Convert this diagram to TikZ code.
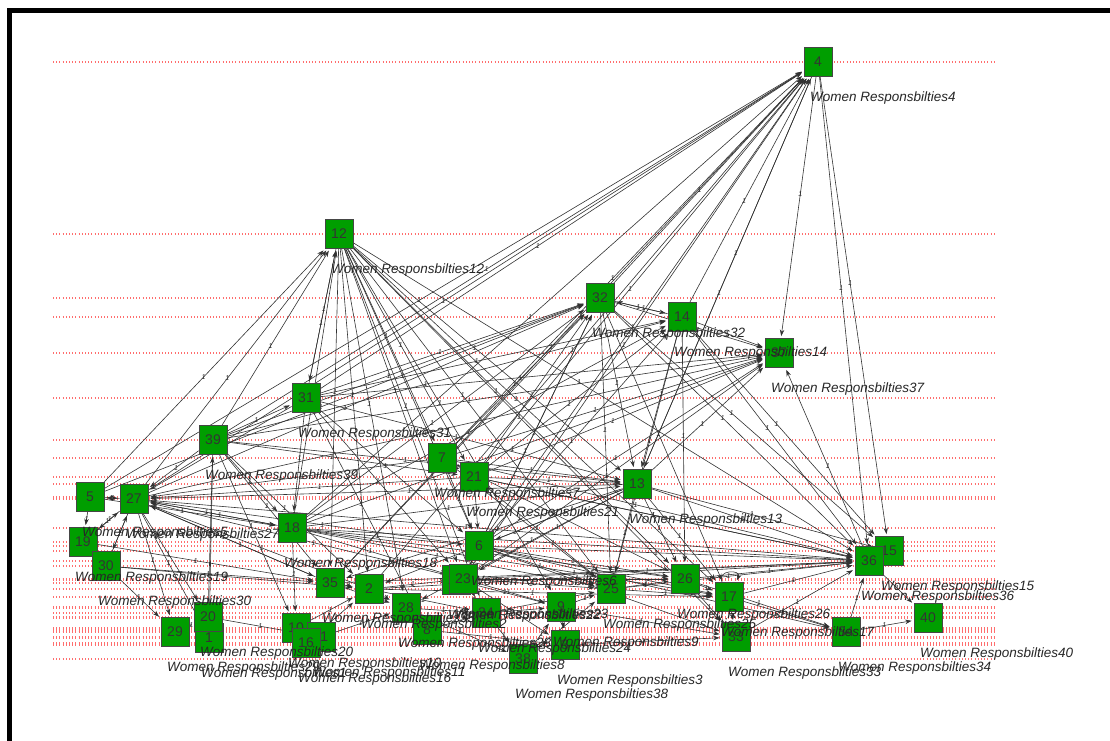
\documentclass[tikz,border=0pt]{standalone}
\usepackage{fontspec}
\setmainfont{Liberation Sans}
\usetikzlibrary{arrows.meta}
\pgfdeclarelayer{grid}\pgfdeclarelayer{edges}\pgfdeclarelayer{top}
\pgfsetlayers{grid,edges,main,top}
\definecolor{nodegreen}{RGB}{0,158,0}
\definecolor{nodeborder}{RGB}{70,70,70}
\definecolor{gridred}{RGB}{255,110,110}
\definecolor{edgegray}{RGB}{50,50,50}
\tikzset{
 vert/.style={draw=nodeborder, fill=nodegreen, minimum width=28pt, minimum height=29pt, inner sep=0pt, font=\fontsize{14}{14}\selectfont, text=black!80, line width=0.8pt},
 lab/.style={anchor=west, font=\fontsize{13.5}{13.5}\selectfont\itshape, text=black!85, inner sep=0pt},
 conn/.style={draw=edgegray, line width=0.6pt, -{Stealth[length=6.5pt,width=4.5pt]}, shorten >=2pt},
 elab/.style={font=\fontsize{7}{7}\selectfont\itshape, inner sep=0pt, text=black!85},
 redline/.style={draw=gridred, line width=1.1pt, dash pattern=on 1pt off 2.2pt},
}
\begin{document}
\begin{tikzpicture}[x=1pt,y=-1pt]
\useasboundingbox (0,0) rectangle (1110,740);
\draw[line width=4.5pt, black] (9.5,745) -- (9.5,10.5) -- (1115,10.5);
\foreach \n/\x/\y in {4/818/62, 12/339/234, 32/600/298, 14/682/317, 37/779/353, 31/306/398, 39/213/440, 7/442/458, 21/474/477, 13/637/484, 5/90/497, 27/134/499, 18/292/528, 19/83/542, 6/479/546, 15/889/551, 36/869/561, 30/106/566, 35/330/583, 2/369/589, 22/456/580, 23/463/579, 25/611/589, 26/685/579, 17/729/597, 28/406/608, 24/486/613, 9/561/607, 1/209/638, 20/208/617, 29/175/632, 10/296/628, 11/321/637, 16/306/643, 8/427/630, 3/565/645, 38/523/659, 33/736/637, 34/846/632, 40/928/618} {
  \begin{pgfonlayer}{grid}\draw[redline] (53,\y) -- (996,\y);\end{pgfonlayer}
  \node[vert] (n\n) at (\x,\y) {\n};
  \begin{pgfonlayer}{top}\node[lab] (l\n) at (\x-8,\y+36) {Women Responsbilties\n};\end{pgfonlayer}
}
\begin{pgfonlayer}{edges}
\foreach \a/\b in {
 27/4, 39/4, 31/4, 7/4, 21/4, 18/4, 6/4, 32/4, 13/4, 23/4, 2/4, 35/4, 5/4, 14/4, 4/37, 4/36, 4/15, 4/13,
 27/12, 39/12, 31/12, 12/31, 5/12, 18/12, 12/7, 12/21, 12/6, 12/13, 12/23, 12/25, 12/26, 12/36, 12/2, 12/35, 12/28, 12/24, 12/9,
 27/32, 39/32, 31/32, 18/32, 7/32, 21/32, 6/32, 5/32, 23/32, 32/14, 14/32, 32/13, 32/25, 32/17, 32/36, 35/32,
 27/37, 31/37, 18/37, 21/37, 6/37, 13/37, 14/37, 32/37, 23/37, 36/37, 39/37, 7/37,
 14/13, 14/25, 14/26, 14/36, 31/14, 39/14, 18/14, 6/14, 21/14,
 27/36, 18/36, 6/36, 21/36, 13/36, 26/36, 17/36, 25/36, 33/36, 34/36, 35/36, 2/36, 36/40, 7/36, 23/36, 32/15, 14/15, 13/15, 34/40,
 5/27, 27/5, 19/27, 30/27, 27/19, 27/30, 18/27, 39/27, 31/27, 7/27, 21/27, 6/27, 13/27, 23/27, 2/27, 35/27, 27/18, 27/20, 27/29, 27/1, 27/35,
 19/30, 5/19, 30/2, 19/35, 30/35, 30/29, 29/20, 39/18, 31/18, 39/31, 39/35, 39/1, 39/2, 39/10, 31/8, 31/6, 31/23, 31/13, 39/13, 39/21,
 5/18, 18/13, 18/6, 18/23, 18/25, 18/26, 18/17, 18/10, 20/11, 20/39,
 7/21, 7/13, 21/13, 7/6, 21/6, 6/23, 6/25, 6/26, 6/17, 6/33, 6/34, 13/6, 13/23, 13/25, 13/26, 13/17, 13/2, 13/35, 13/28,
 23/25, 23/26, 23/9, 23/24, 2/23, 35/2, 2/28, 28/24, 24/9, 9/25, 25/26, 26/17, 17/33, 17/34, 25/17, 26/33, 28/8, 8/24, 24/38,
 9/3, 38/9, 28/38, 2/24, 35/28, 16/2, 10/2, 11/28, 8/3, 23/3, 26/34, 24/25, 9/33, 3/33, 38/25, 22/26, 22/9, 2/17,
 7/26, 21/25, 21/36, 7/25, 12/17, 12/33}
 \draw[conn] (n\a) -- (n\b) node[elab, pos=0.45] {1};
\draw[conn] (n17) to[out=115,in=65,min distance=14pt] (n17);
\end{pgfonlayer}
\end{tikzpicture}
\end{document}
